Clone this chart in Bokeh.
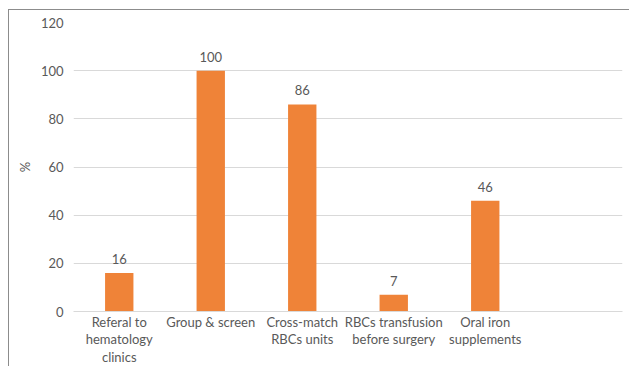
from bokeh.plotting import figure
from bokeh.models import ColumnDataSource, LabelSet, Range1d, FixedTicker
from bokeh.core.properties import value
from bokeh.embed import file_html
from bokeh.resources import INLINE

# Pre-operative measures (% of patients)
categories = [
    "Referal to\nhematology\nclinics",
    "Group & screen",
    "Cross-match\nRBCs units",
    "RBCs transfusion\nbefore surgery",
    "Oral iron\nsupplements",
    " ",
]
values = [16, 100, 86, 7, 46]
y_ticks = [0, 20, 40, 60, 80, 100, 120]

FONT = "Lato"
TEXT = "#595959"
BAR = "#EF8338"
GRID = "#d9d9d9"

bars = ColumnDataSource(dict(
    cat=categories[:len(values)],
    val=values,
    lab=[str(v) for v in values],
))

# chart area sits inside a grey frame offset from the page corner
p = figure(
    x_range=categories, y_range=Range1d(0, 120),
    width=621, height=357, margin=(9, 0, 0, 8),
    output_backend="svg", toolbar_location=None,
    min_border_left=64, min_border_right=8,
    min_border_top=12, min_border_bottom=56,
)
p.styles = {"border-top": "1px solid #8c8c8c", "border-left": "1px solid #8c8c8c"}
p.outline_line_color = None
p.background_fill_color = "white"
p.border_fill_color = "white"

p.vbar(x="cat", top="val", width=0.31, source=bars, color=BAR, line_color=None)

p.add_layout(LabelSet(
    x="cat", y="val", text="lab", source=bars,
    text_align="center", text_baseline="bottom", y_offset=9,
    text_font=value(FONT), text_font_size="13px", text_color=TEXT,
))

p.xgrid.grid_line_color = None
p.ygrid.grid_line_color = GRID
p.ygrid.grid_line_width = 1
p.ygrid.ticker = FixedTicker(ticks=y_ticks)

p.xaxis.axis_line_color = GRID
p.xaxis.major_tick_line_color = None
p.xaxis.major_tick_out = 0
p.xaxis.major_tick_in = 0
p.xaxis.minor_tick_line_color = None
p.xaxis.major_label_text_font = FONT
p.xaxis.major_label_text_font_size = "13px"
p.xaxis.major_label_text_color = TEXT
p.xaxis.major_label_standoff = 2
p.xaxis.major_label_text_line_height = 1.1

p.yaxis.ticker = FixedTicker(ticks=y_ticks)
p.yaxis.axis_line_color = None
p.yaxis.major_tick_line_color = None
p.yaxis.major_tick_out = 0
p.yaxis.major_tick_in = 0
p.yaxis.minor_tick_line_color = None
p.yaxis.major_label_text_font = FONT
p.yaxis.major_label_text_font_size = "13px"
p.yaxis.major_label_text_color = TEXT
p.yaxis.major_label_standoff = 10
p.yaxis.axis_label = "%"
p.yaxis.axis_label_text_font = FONT
p.yaxis.axis_label_text_font_size = "13px"
p.yaxis.axis_label_text_font_style = "normal"
p.yaxis.axis_label_text_color = TEXT
p.yaxis.axis_label_standoff = 5

open("out.html", "w").write(file_html(p, INLINE))
